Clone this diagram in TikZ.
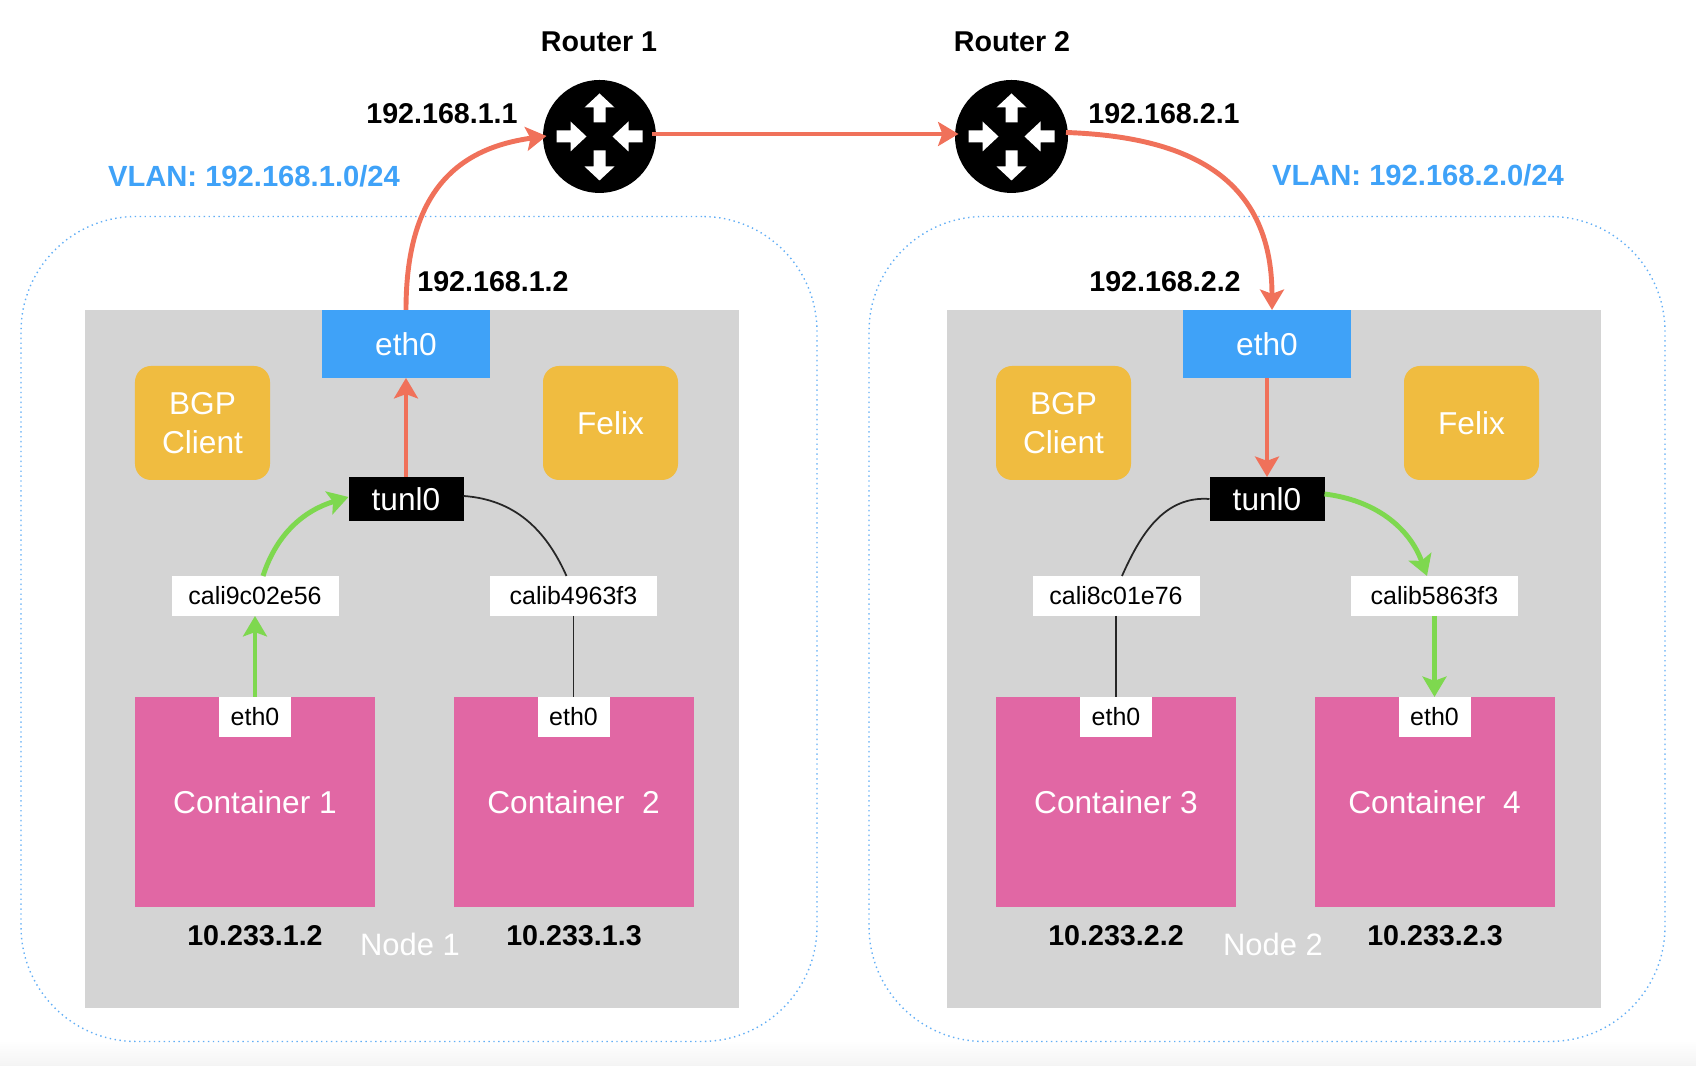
\documentclass[tikz,border=0pt]{standalone}
\usepackage{fontspec}
\setmainfont{Liberation Sans}
\usetikzlibrary{arrows.meta,positioning}
\definecolor{Vlan}{HTML}{62AEF5}
\definecolor{Sky}{HTML}{3FA2F8}
\definecolor{Slab}{HTML}{D4D4D4}
\definecolor{Amber}{HTML}{F0BC40}
\definecolor{Rose}{HTML}{E167A4}
\definecolor{Coral}{HTML}{F0715A}
\definecolor{Leaf}{HTML}{7ED84F}
\definecolor{Floor}{HTML}{F4F4F4}
\tikzset{
  box/.style={rectangle,inner sep=0pt,outer sep=0pt,draw=none},
  vlanbox/.style={box,draw=Vlan,line width=0.4pt,densely dotted,rounded corners=1.15cm,minimum width=7.96cm,minimum height=8.25cm},
  hostbox/.style={box,fill=Slab,minimum width=6.54cm,minimum height=6.98cm},
  agentbox/.style={box,fill=Amber,rounded corners=0.16cm,minimum width=1.35cm,minimum height=1.14cm,text=white,align=center,font=\fontsize{9}{11}\selectfont},
  nicbox/.style={box,fill=Sky,minimum width=1.68cm,minimum height=0.68cm,text=white,font=\fontsize{9}{11}\selectfont},
  tunbox/.style={box,fill=black,minimum width=1.15cm,minimum height=0.44cm,text=white,font=\fontsize{9}{11}\selectfont},
  calibox/.style={box,fill=white,minimum width=1.67cm,minimum height=0.40cm,font=\fontsize{7.1}{9}\selectfont},
  podbox/.style={box,fill=Rose,minimum width=2.40cm,minimum height=2.10cm,text=white,font=\fontsize{9}{11}\selectfont},
  podnic/.style={box,fill=white,minimum width=0.72cm,minimum height=0.40cm,font=\fontsize{7.1}{9}\selectfont},
  routerdot/.style={circle,fill=black,inner sep=0pt,outer sep=0pt,minimum size=1.13cm},
  tag/.style={inner sep=0pt,font=\fontsize{8.15}{10}\selectfont\bfseries},
  vlantag/.style={tag,text=Sky,font=\fontsize{8.3}{10}\selectfont\bfseries},
  nodetag/.style={inner sep=0pt,text=white,font=\fontsize{8.8}{11}\selectfont},
  redflow/.style={draw=Coral,line width=1.4pt,-{Stealth[length=5.8pt,width=6.8pt,inset=1.2pt]}},
  greenflow/.style={draw=Leaf,line width=1.4pt,-{Stealth[length=5.8pt,width=6.8pt,inset=1.2pt]}},
  idleflow/.style={draw=black!85,line width=0.5pt},
  pics/routericon/.style={code={
    \foreach \turn/\tip/\neck/\tail in {0/0.43/0.29/0.14,90/0.13/0.29/0.43,180/0.44/0.30/0.14,270/0.13/0.29/0.43}{
      \fill[white,rotate=\turn] (-0.06,\tail) -- (0.06,\tail) -- (0.06,\neck) -- (0.15,\neck) -- (0,\tip) -- (-0.15,\neck) -- (-0.06,\neck) -- cycle;
    }
  }}
}
\begin{document}
\begin{tikzpicture}[x=1cm,y=1cm]
    \useasboundingbox (0,0) rectangle (16.96,10.66);
    \shade[top color=white,bottom color=Floor] (0,0) rectangle (16.96,0.26);

    % the two vlans and their hosts
    \node[vlanbox] (vlan1) at (4.19,4.37) {};
    \node[vlanbox] (vlan2) at (12.67,4.37) {};
    \node[hostbox] (host1) at (4.12,4.07) {};
    \node[hostbox] (host2) at (12.74,4.07) {};

    % routers
    \node[routerdot] (router1) at (5.995,9.295) {};
    \node[routerdot] (router2) at (10.115,9.295) {};
    \pic at (router1) {routericon};
    \pic at (router2) {routericon};
    \node[tag] at (5.99,10.24) {Router 1};
    \node[tag] at (10.12,10.24) {Router 2};
    \node[tag] at (4.42,9.52) {192.168.1.1};
    \node[tag] at (11.64,9.52) {192.168.2.1};
    \node[tag] at (4.93,7.84) {192.168.1.2};
    \node[tag] at (11.65,7.84) {192.168.2.2};
    \node[vlantag] at (2.54,8.90) {VLAN: 192.168.1.0/24};
    \node[vlantag] at (14.18,8.91) {VLAN: 192.168.2.0/24};

    % left host
    \node[nicbox] (nic1) at (4.06,7.22) {eth0};
    \node[agentbox] (bgp1) at (2.025,6.43) {BGP\\Client};
    \node[agentbox] (felix1) at (6.105,6.43) {Felix};
    \node[tunbox] (tun1) at (4.06,5.67) {tunl0};
    \node[calibox] (cali1) at (2.55,4.70) {cali9c02e56};
    \node[calibox] (cali2) at (5.735,4.70) {calib4963f3};
    \node[podbox] (pod1) at (2.55,2.64) {Container 1};
    \node[podbox] (pod2) at (5.735,2.64) {Container\ \ 2};
    \node[podnic] (podnic1) at (2.55,3.49) {eth0};
    \node[podnic] (podnic2) at (5.735,3.49) {eth0};
    \node[tag] at (2.55,1.30) {10.233.1.2};
    \node[tag] at (5.74,1.30) {10.233.1.3};
    \node[nodetag] at (4.10,1.22) {Node 1};

    % right host
    \node[nicbox] (nic2) at (12.67,7.22) {eth0};
    \node[agentbox] (bgp2) at (10.635,6.43) {BGP\\Client};
    \node[agentbox] (felix2) at (14.715,6.43) {Felix};
    \node[tunbox] (tun2) at (12.67,5.67) {tunl0};
    \node[calibox] (cali3) at (11.16,4.70) {cali8c01e76};
    \node[calibox] (cali4) at (14.345,4.70) {calib5863f3};
    \node[podbox] (pod3) at (11.16,2.64) {Container 3};
    \node[podbox] (pod4) at (14.345,2.64) {Container\ \ 4};
    \node[podnic] (podnic3) at (11.16,3.49) {eth0};
    \node[podnic] (podnic4) at (14.345,3.49) {eth0};
    \node[tag] at (11.16,1.30) {10.233.2.2};
    \node[tag] at (14.35,1.30) {10.233.2.3};
    \node[nodetag] at (12.73,1.22) {Node 2};

    % traffic
    \draw[greenflow] (podnic1.north) -- (cali1.south);
    \draw[greenflow] ([xshift=0.08cm]cali1.north) to[out=72,in=197] ([yshift=0.02cm]tun1.west);
    \draw[redflow] (tun1.north) -- (nic1.south);
    \draw[redflow,shorten >=-1pt] (nic1.north) to[out=90,in=188,out looseness=1.4,in looseness=0.97] (router1.west);
    \draw[redflow,shorten >=-1pt] ([xshift=-0.04cm,yshift=0.025cm]router1.east) -- ([yshift=0.025cm]router2.west);
    \draw[redflow] ([xshift=-0.02cm,yshift=0.04cm]router2.east) to[out=-2,in=90,out looseness=1.1,in looseness=1.28] ([xshift=0.05cm]nic2.north);
    \draw[redflow] (nic2.south) -- (tun2.north);
    \draw[greenflow] ([yshift=0.05cm]tun2.east) to[out=-7,in=110] ([xshift=-0.075cm]cali4.north);
    \draw[greenflow] (cali4.south) -- (podnic4.north);

    % idle links
    \draw[idleflow] ([yshift=0.03cm]tun1.east) to[out=-4,in=114] ([xshift=-0.07cm]cali2.north);
    \draw[idleflow] (cali2.south) -- (podnic2.north);
    \draw[idleflow] (tun2.west) to[out=176,in=66] ([xshift=0.06cm]cali3.north);
    \draw[idleflow] (cali3.south) -- (podnic3.north);
  \end{tikzpicture}
\end{document}
